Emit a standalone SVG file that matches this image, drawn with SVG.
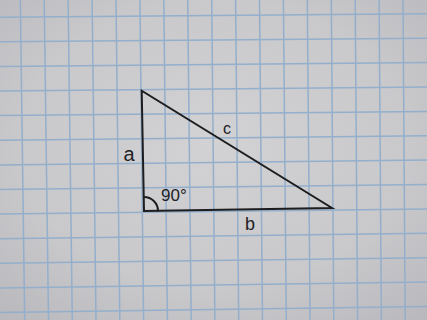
<svg xmlns="http://www.w3.org/2000/svg" width="427" height="320" viewBox="0 0 427 320">
  <defs>
    <radialGradient id="paper" cx="0.5" cy="0.45" r="0.75">
      <stop offset="0" stop-color="#d2d1d4"/>
      <stop offset="0.6" stop-color="#c9c8cb"/>
      <stop offset="1" stop-color="#b8b7bb"/>
    </radialGradient>
    <style>
      .grid line { stroke: #93afcc; stroke-width: 1.5; }
      .ink { stroke: #1d1d1f; stroke-width: 2; fill: none; stroke-linejoin: miter; stroke-linecap: round; }
      .lbl { font-family: "Liberation Sans", "DejaVu Sans", sans-serif; fill: #222224; }
    </style>
  </defs>
  <rect x="0" y="0" width="427" height="320" fill="url(#paper)"/>
  <g class="grid" id="grid">
    <line x1="0" y1="17.2" x2="427" y2="13.8"/>
    <line x1="0" y1="41.8" x2="427" y2="38.2"/>
    <line x1="0" y1="66.4" x2="427" y2="62.6"/>
    <line x1="0" y1="91.0" x2="427" y2="87.0"/>
    <line x1="0" y1="115.6" x2="427" y2="111.4"/>
    <line x1="0" y1="140.3" x2="427" y2="135.8"/>
    <line x1="0" y1="164.9" x2="427" y2="160.1"/>
    <line x1="0" y1="189.5" x2="427" y2="184.5"/>
    <line x1="0" y1="214.1" x2="427" y2="208.9"/>
    <line x1="0" y1="238.7" x2="427" y2="233.3"/>
    <line x1="0" y1="263.3" x2="427" y2="257.7"/>
    <line x1="0" y1="287.9" x2="427" y2="282.1"/>
    <line x1="0" y1="312.5" x2="427" y2="306.5"/>
    <line x1="20.3" y1="0" x2="24.7" y2="320"/>
    <line x1="44.2" y1="0" x2="48.5" y2="320"/>
    <line x1="68.1" y1="0" x2="72.3" y2="320"/>
    <line x1="92.1" y1="0" x2="96.0" y2="320"/>
    <line x1="116.0" y1="0" x2="119.8" y2="320"/>
    <line x1="139.9" y1="0" x2="143.6" y2="320"/>
    <line x1="163.8" y1="0" x2="167.4" y2="320"/>
    <line x1="187.7" y1="0" x2="191.2" y2="320"/>
    <line x1="211.7" y1="0" x2="214.9" y2="320"/>
    <line x1="235.6" y1="0" x2="238.7" y2="320"/>
    <line x1="259.5" y1="0" x2="262.5" y2="320"/>
    <line x1="283.4" y1="0" x2="286.3" y2="320"/>
    <line x1="307.3" y1="0" x2="310.1" y2="320"/>
    <line x1="331.3" y1="0" x2="333.8" y2="320"/>
    <line x1="355.2" y1="0" x2="357.6" y2="320"/>
    <line x1="379.1" y1="0" x2="381.4" y2="320"/>
    <line x1="403.0" y1="0" x2="405.2" y2="320"/>
  </g>
  <g id="triangle">
    <path class="ink" d="M141.7,90.7 L144,211 L332,208 Z"/>
    <path class="ink" d="M144,197 A14,14 0 0 1 158,210.8" stroke-width="1.8"/>
  </g>
  <g id="labels">
    <text class="lbl" x="129" y="161" font-size="20" text-anchor="middle">a</text>
    <text class="lbl" x="227" y="133.5" font-size="16" text-anchor="middle">c</text>
    <text class="lbl" x="250" y="230" font-size="18" text-anchor="middle">b</text>
    <text class="lbl" x="161" y="201" font-size="17">90°</text>
  </g>
</svg>
